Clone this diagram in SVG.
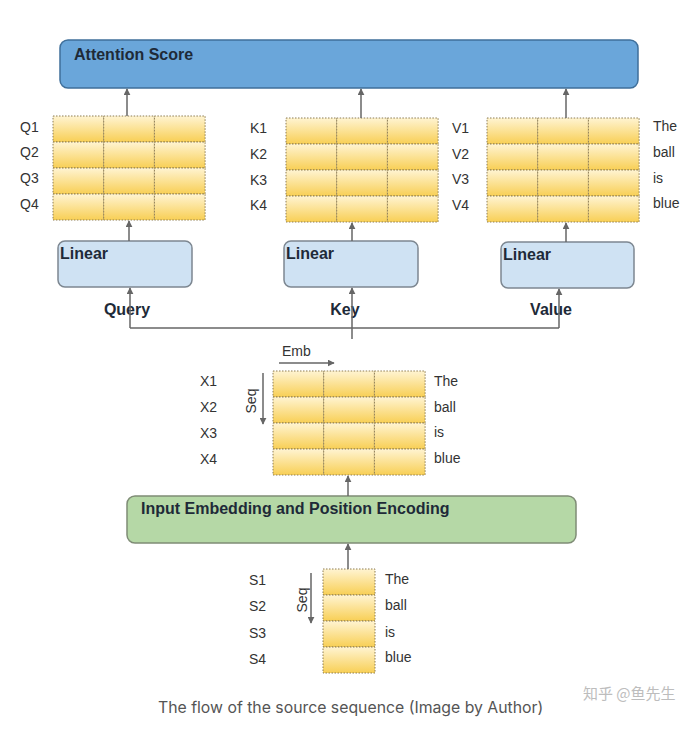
<svg xmlns="http://www.w3.org/2000/svg" width="696" height="733" viewBox="0 0 696 733">
<style>
.lbl{font-family:"Liberation Sans",Arial,sans-serif;font-size:14px;fill:#333}
.bold{font-family:"Liberation Sans",Arial,sans-serif;font-weight:bold;font-size:16px;fill:#1e2a38}
.cell{fill:url(#cg);stroke:#8d7c52;stroke-width:1;stroke-dasharray:1.5 1.5}
.arr{stroke:#666;stroke-width:1.5;fill:none;marker-end:url(#ah)}
.ln{stroke:#666;stroke-width:1.5;fill:none}
</style>
<defs>
<linearGradient id="cg" x1="0" y1="0" x2="0" y2="1">
<stop offset="0" stop-color="#fff4d2"/>
<stop offset="1" stop-color="#f8cf55"/>
</linearGradient>
<marker id="ah" viewBox="0 0 10 10" refX="9" refY="5" markerWidth="7" markerHeight="7" markerUnits="userSpaceOnUse" orient="auto">
<path d="M0,0 L10,5 L0,10 z" fill="#666"/>
</marker>
<g id="row3"><rect class="cell" x="0" y="0" width="50.7" height="26"/><rect class="cell" x="50.7" y="0" width="50.7" height="26"/><rect class="cell" x="101.4" y="0" width="50.7" height="26"/></g>
<g id="mat3"><use href="#row3" y="0"/><use href="#row3" y="26"/><use href="#row3" y="52"/><use href="#row3" y="78"/></g>
</defs>
<rect width="696" height="733" fill="#fff"/>

<g id="attention">
<rect x="60" y="40" width="578" height="48" rx="8" fill="#6aa6da" stroke="#3f6f9a" stroke-width="1.5"/>
<text class="bold" x="74" y="60" font-size="16.4">Attention Score</text>
</g>

<g id="query-matrix">
<use href="#mat3" x="53" y="116"/>
<text class="lbl" x="20" y="132">Q1</text><text class="lbl" x="20" y="157">Q2</text><text class="lbl" x="20" y="183">Q3</text><text class="lbl" x="20" y="209">Q4</text>
</g>
<g id="key-matrix">
<use href="#mat3" x="286" y="118"/>
<text class="lbl" x="250" y="133">K1</text><text class="lbl" x="250" y="159">K2</text><text class="lbl" x="250" y="185">K3</text><text class="lbl" x="250" y="210">K4</text>
</g>
<g id="value-matrix">
<use href="#mat3" x="487" y="118"/>
<text class="lbl" x="452" y="133">V1</text><text class="lbl" x="452" y="159">V2</text><text class="lbl" x="452" y="184">V3</text><text class="lbl" x="452" y="210">V4</text>
<text class="lbl" x="653" y="131">The</text><text class="lbl" x="653" y="157">ball</text><text class="lbl" x="653" y="183">is</text><text class="lbl" x="653" y="208">blue</text>
</g>

<g id="linear-q">
<rect x="58" y="241" width="134" height="46" rx="7" fill="#cfe2f3" stroke="#7d8791" stroke-width="1.5"/>
<text class="bold" x="60" y="259">Linear</text>
</g>
<g id="linear-k">
<rect x="284" y="241" width="134" height="46" rx="7" fill="#cfe2f3" stroke="#7d8791" stroke-width="1.5"/>
<text class="bold" x="286" y="259">Linear</text>
</g>
<g id="linear-v">
<rect x="501" y="242" width="133" height="46" rx="7" fill="#cfe2f3" stroke="#7d8791" stroke-width="1.5"/>
<text class="bold" x="503" y="260">Linear</text>
</g>

<g id="labels-qkv">
<text class="bold" x="127" y="315" text-anchor="middle" fill="#222">Query</text>
<text class="bold" x="345" y="315" text-anchor="middle">Key</text>
<text class="bold" x="551" y="315" text-anchor="middle">Value</text>
</g>

<g id="x-matrix">
<use href="#mat3" x="273" y="371"/>
<text class="lbl" x="200" y="386">X1</text><text class="lbl" x="200" y="412">X2</text><text class="lbl" x="200" y="438">X3</text><text class="lbl" x="200" y="464">X4</text>
<text class="lbl" x="434" y="386">The</text><text class="lbl" x="434" y="412">ball</text><text class="lbl" x="434" y="437">is</text><text class="lbl" x="434" y="463">blue</text>
<text class="lbl" x="282" y="356">Emb</text>
<text class="lbl" x="256" y="401" text-anchor="middle" transform="rotate(-90 256 401)">Seq</text>
</g>

<g id="embedding">
<rect x="127" y="496" width="449" height="47" rx="8" fill="#b5d8a6" stroke="#7f8c76" stroke-width="1.5"/>
<text class="bold" x="141" y="514" font-size="16.3">Input Embedding and Position Encoding</text>
</g>

<g id="s-matrix">
<rect class="cell" x="323" y="569" width="52" height="26"/><rect class="cell" x="323" y="595" width="52" height="26"/><rect class="cell" x="323" y="621" width="52" height="26"/><rect class="cell" x="323" y="647" width="52" height="26"/>
<text class="lbl" x="249" y="585">S1</text><text class="lbl" x="249" y="611">S2</text><text class="lbl" x="249" y="638">S3</text><text class="lbl" x="249" y="664">S4</text>
<text class="lbl" x="385" y="584">The</text><text class="lbl" x="385" y="610">ball</text><text class="lbl" x="385" y="637">is</text><text class="lbl" x="385" y="662">blue</text>
<text class="lbl" x="307" y="600" text-anchor="middle" transform="rotate(-90 307 600)">Seq</text>
</g>

<g id="connectors">
<line class="arr" x1="127" y1="116" x2="127" y2="89"/>
<line class="arr" x1="361" y1="118" x2="361" y2="89"/>
<line class="arr" x1="566" y1="118" x2="566" y2="89"/>
<line class="arr" x1="129" y1="241" x2="129" y2="221"/>
<line class="arr" x1="352" y1="241" x2="352" y2="223"/>
<line class="arr" x1="566" y1="242" x2="566" y2="223"/>
<line class="ln" x1="130" y1="328" x2="559" y2="328"/>
<line class="arr" x1="130" y1="328" x2="130" y2="288"/>
<line class="arr" x1="559" y1="328" x2="559" y2="289"/>
<line class="arr" x1="352" y1="339" x2="352" y2="288"/>
<line class="arr" x1="348" y1="496" x2="348" y2="476"/>
<line class="arr" x1="348" y1="569" x2="348" y2="544"/>
<line class="arr" x1="279" y1="363" x2="334" y2="363"/>
<line class="arr" x1="263" y1="373" x2="263" y2="424"/>
<line class="arr" x1="311" y1="573" x2="311" y2="623"/>
</g>

<text x="158" y="713" font-family="Inter,'Noto Sans',sans-serif" font-size="15.8" fill="#555">The flow of the source sequence (Image by Author)</text>
<text x="583" y="699" font-family="'Noto Sans CJK SC',sans-serif" font-size="15" fill="#bdbdbd">知乎 @鱼先生</text>
</svg>
